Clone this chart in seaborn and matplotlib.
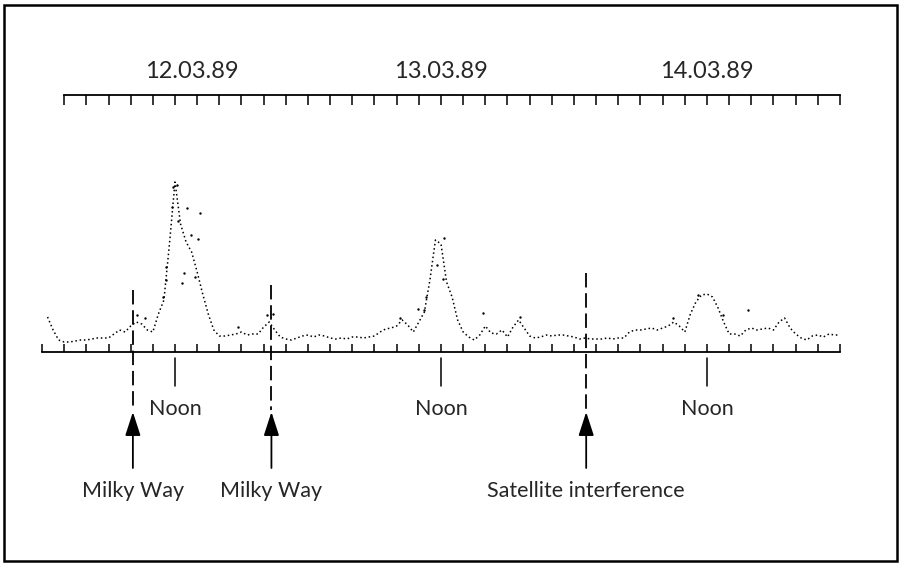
import numpy as np
import pandas as pd
import matplotlib
matplotlib.use('Agg')
import matplotlib.pyplot as plt
from matplotlib.patches import Rectangle
import seaborn as sns

# signal level, one value every half hour (hours from 12.03.89 00:00)
sample_hours = np.arange(0.5, 72.01, 0.5)
signal_level = [
    35, 22, 12, 10, 10, 11, 12, 12, 13, 14, 14, 14, 18, 22, 20, 26, 30, 28, 22, 20,
    38, 52, 108, 170, 128, 110, 100, 80, 58, 38,
    22, 16, 16, 17, 18, 20, 17, 18, 18, 25,
    30, 22, 15, 13, 12, 14, 16, 17, 15, 17,
    16, 14, 13, 14, 13, 15, 15, 14, 15, 16,
    20, 23, 24, 26, 32, 27, 20, 30, 40, 72,
    112, 108, 70, 55, 32, 20, 15, 12, 17, 26,
    19, 18, 22, 15, 25, 32, 24, 16, 14, 15,
    17, 16, 17, 17, 16, 15, 13, 14, 13, 13,
    13, 14, 13, 14, 14, 20, 22, 22, 23, 24,
    22, 24, 26, 30, 26, 20, 38, 50, 57, 58,
    55, 44, 30, 18, 18, 16, 22, 24, 22, 23,
    24, 22, 30, 34, 24, 18, 14, 12, 16, 17,
    15, 18, 17, 17,
]

# stray dots off the main trace
stray_hours = [8.6, 9.3, 10.9, 11.2, 11.2, 11.7, 11.8, 12.2, 12.27, 12.6, 12.8, 13.1, 13.45,
               13.8, 14.1, 14.3, 17.7, 20.3, 20.85, 32.3, 33.9, 34.5, 34.65, 35.65, 36.2,
               36.3, 39.8, 43.1, 56.9, 59.2, 61.4, 63.7]
stray_level = [37, 34, 55, 72, 85, 145, 165, 167, 131, 69, 79, 144, 117,
               75, 113, 139, 25, 37, 38, 34, 43, 42, 55, 87, 73,
               114, 39, 35, 34, 57, 37, 42]

day_hours = [13.5, 36, 60]
day_labels = ['12.03.89', '13.03.89', '14.03.89']
noon_hours = [12, 36, 60]

event_hours = [8.2, 20.7, 49.1]
event_tops = [62, 67, 79]
event_labels = ['Milky Way', 'Milky Way', 'Satellite interference']


def main():
    sns.set_theme(style='white')
    plt.rcParams['font.family'] = ['Lato', 'DejaVu Sans']

    W, H = 899, 563
    fig = plt.figure(figsize=(W / 100, H / 100), dpi=100)
    # axes: bottom line at y=352 px, top ruler at y=95 px, x from 42 to 840 px
    ax = fig.add_axes([42 / W, (H - 352) / H, (840 - 42) / W, (352 - 95) / H])
    ax.set_xlim(0, 72)
    ax.set_ylim(0, 257)

    trace = pd.DataFrame({'hour': sample_hours, 'level': signal_level})
    sns.lineplot(data=trace, x='hour', y='level', ax=ax, color='black',
                 linewidth=1.1, linestyle=(0, (1, 1.8)))
    stray = pd.DataFrame({'hour': stray_hours, 'level': stray_level})
    sns.scatterplot(data=stray, x='hour', y='level', ax=ax, color='black',
                    s=3, linewidth=0)

    for side in ['top', 'left', 'right']:
        ax.spines[side].set_visible(False)
    ax.spines['bottom'].set_color('black')
    ax.spines['bottom'].set_linewidth(1.3)
    ax.set_xticks(range(0, 73, 2))
    ax.set_yticks([])
    ax.tick_params(axis='x', direction='in', length=6, width=1.1, color='black',
                   bottom=True, labelbottom=False)
    ax.set_xlabel('')
    ax.set_ylabel('')

    # top ruler
    top = ax.secondary_xaxis('top')
    top.set_xticks(range(2, 73, 2))
    top.spines['top'].set_bounds(2, 72)
    top.spines['top'].set_linewidth(1.3)
    top.spines['top'].set_color('black')
    top.tick_params(axis='x', direction='in', length=7, width=1.1,
                    color='black', labeltop=False)

    # dates above the ruler
    for h, lab in zip(day_hours, day_labels):
        ax.text(h, 280, lab, ha='center', va='center', fontsize=17, clip_on=False)

    for h in noon_hours:
        ax.plot([h, h], [-6, -34], color='black', linewidth=1.1, clip_on=False)
        ax.text(h, -57, 'Noon', ha='center', va='center', fontsize=15.5, clip_on=False)

    for h, t, lab in zip(event_hours, event_tops, event_labels):
        ax.plot([h, h], [t, -58], color='black', linewidth=1.3,
                dashes=(8, 3.2), clip_on=False)
        ax.annotate('', xy=(h, -60), xytext=(h, -116),
                    arrowprops=dict(arrowstyle='-|>,head_length=1.45,head_width=0.47',
                                    color='black', lw=1.3, mutation_scale=10,
                                    shrinkA=0, shrinkB=0),
                    annotation_clip=False)
        ax.text(h, -139, lab, ha='center', va='center', fontsize=15.5, clip_on=False)

    # frame round the whole picture
    fig.add_artist(Rectangle((4 / W, 2 / H), 893 / W, 556 / H, transform=fig.transFigure,
                             fill=False, edgecolor='black', linewidth=1.8))

    fig.savefig('out.png', dpi=100)


if __name__ == '__main__':
    main()
